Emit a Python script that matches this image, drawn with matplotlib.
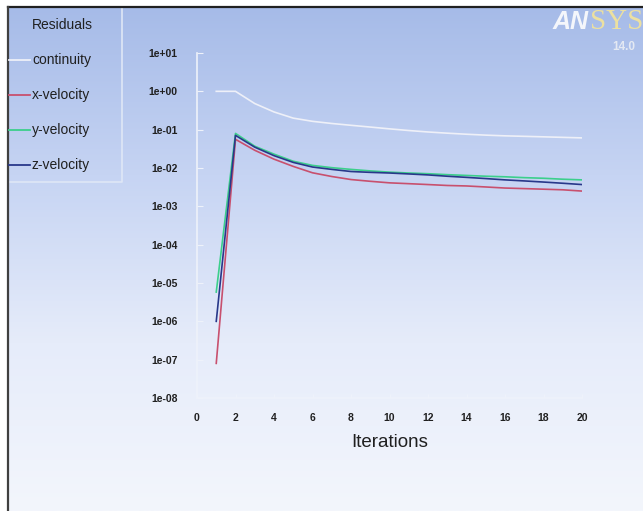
import numpy as np
import matplotlib.pyplot as plt
from matplotlib.colors import LinearSegmentedColormap
from matplotlib.ticker import FuncFormatter, LogLocator

plt.rcParams['font.family'] = ['Liberation Sans', 'DejaVu Sans']

iterations = list(range(1, 21))
continuity = [1.0, 1.0, 0.48, 0.29, 0.2, 0.165, 0.145, 0.13, 0.117, 0.105,
              0.095, 0.087, 0.081, 0.076, 0.072, 0.069, 0.067, 0.065, 0.063, 0.061]
x_velocity = [8e-8, 0.056, 0.029, 0.017, 0.011, 0.0075, 0.006, 0.005, 0.0045, 0.0041,
              0.0039, 0.0037, 0.0035, 0.0034, 0.0032, 0.0030, 0.0029, 0.0028, 0.0027, 0.0025]
y_velocity = [5.8e-6, 0.08, 0.037, 0.023, 0.015, 0.0117, 0.0102, 0.0092, 0.0084, 0.0078,
              0.0074, 0.0071, 0.0067, 0.0064, 0.0061, 0.0059, 0.0056, 0.0054, 0.0051, 0.0049]
z_velocity = [1.0e-6, 0.071, 0.035, 0.021, 0.014, 0.0106, 0.0092, 0.0081, 0.0077, 0.0074,
              0.007, 0.0066, 0.0061, 0.0057, 0.0053, 0.0049, 0.0046, 0.0043, 0.004, 0.0037]

names = ["continuity", "x-velocity", "y-velocity", "z-velocity"]
series = [continuity, x_velocity, y_velocity, z_velocity]
colors = ["#eef0f8", "#c8506e", "#3ccf8c", "#28388a"]

W, H = 643, 511
fig = plt.figure(figsize=(W / 100, H / 100), dpi=100)
fig.patch.set_facecolor("white")

# overlay in pixel coordinates: background, frame, legend, logo
bg = fig.add_axes([0, 0, 1, 1], zorder=0)
bg.set_xlim(0, W)
bg.set_ylim(H, 0)
bg.axis("off")
grad = LinearSegmentedColormap.from_list("ansys", ["#a6bbe8", "#c6d4f3", "#e6ecfa", "#f3f6fc"])
bg.imshow(np.linspace(0, 1, 256).reshape(-1, 1), cmap=grad, aspect="auto",
          extent=(8, W, H, 7), zorder=0)
bg.plot([8, W], [7, 7], color="#202020", lw=1.6, zorder=2)
bg.plot([8, 8], [7, H], color="#404040", lw=1.6, zorder=2)

# legend box
bg.plot([122, 122, 9], [8, 182, 182], color="#dfe7f6", lw=1.2, zorder=1)
bg.text(32, 25, "Residuals", fontsize=10, ha="left", va="center", color="#202020")
for i, (name, c) in enumerate(zip(names, colors)):
    yy = 60 + i * 35
    bg.plot([9, 30], [yy, yy], color=c, lw=1.3, zorder=2)
    bg.text(32, yy, name, fontsize=10, ha="left", va="center", color="#202020")

# logo
bg.text(553, 29, "AN", fontsize=18, fontweight="bold", fontstyle="italic",
        color="#f4f6fb", ha="left", va="baseline")
bg.text(590, 29, "SYS", fontsize=21, color="#ece0a0",
        ha="left", va="baseline", family="Liberation Serif")
bg.text(612, 50, "14.0", fontsize=8.5, fontweight="bold", color="#e4e9f3",
        ha="left", va="baseline")

ax = fig.add_axes([197 / W, 1 - 398 / H, (582 - 197) / W, (398 - 53) / H], zorder=1)
ax.patch.set_alpha(0)
for s, c in zip(series, colors):
    ax.plot(iterations, s, color=c, lw=1.2)

ax.set_yscale("log")
ax.set_ylim(1e-8, 1e1)
ax.set_xlim(0, 20)
ax.set_xticks(range(0, 21, 2))
ax.set_yticks([10.0 ** k for k in range(-8, 2)])
ax.yaxis.set_minor_locator(LogLocator(base=10, subs=np.arange(2, 10)))
ax.yaxis.set_major_formatter(FuncFormatter(lambda v, p: f"{v:.0e}"))
ax.yaxis.set_minor_formatter(FuncFormatter(lambda v, p: ""))

for side in ["top", "right"]:
    ax.spines[side].set_visible(False)
for side in ["left", "bottom"]:
    ax.spines[side].set_color("#eef2fa")
    ax.spines[side].set_linewidth(1.2)

ax.tick_params(axis="y", which="major", direction="in", length=4, color="#eef2fa",
               labelsize=7.5, labelcolor="#202020", pad=14)
ax.tick_params(axis="y", which="minor", direction="in", length=2, color="#eef2fa")
ax.tick_params(axis="x", which="major", direction="in", length=3, color="#eef2fa",
               labelsize=7.5, labelcolor="#202020", pad=11)
for lab in ax.get_xticklabels() + ax.get_yticklabels():
    lab.set_fontweight("bold")
ax.set_xlabel("Iterations", fontsize=13.5, color="#202020", labelpad=8)

fig.savefig("out.png", dpi=100)
